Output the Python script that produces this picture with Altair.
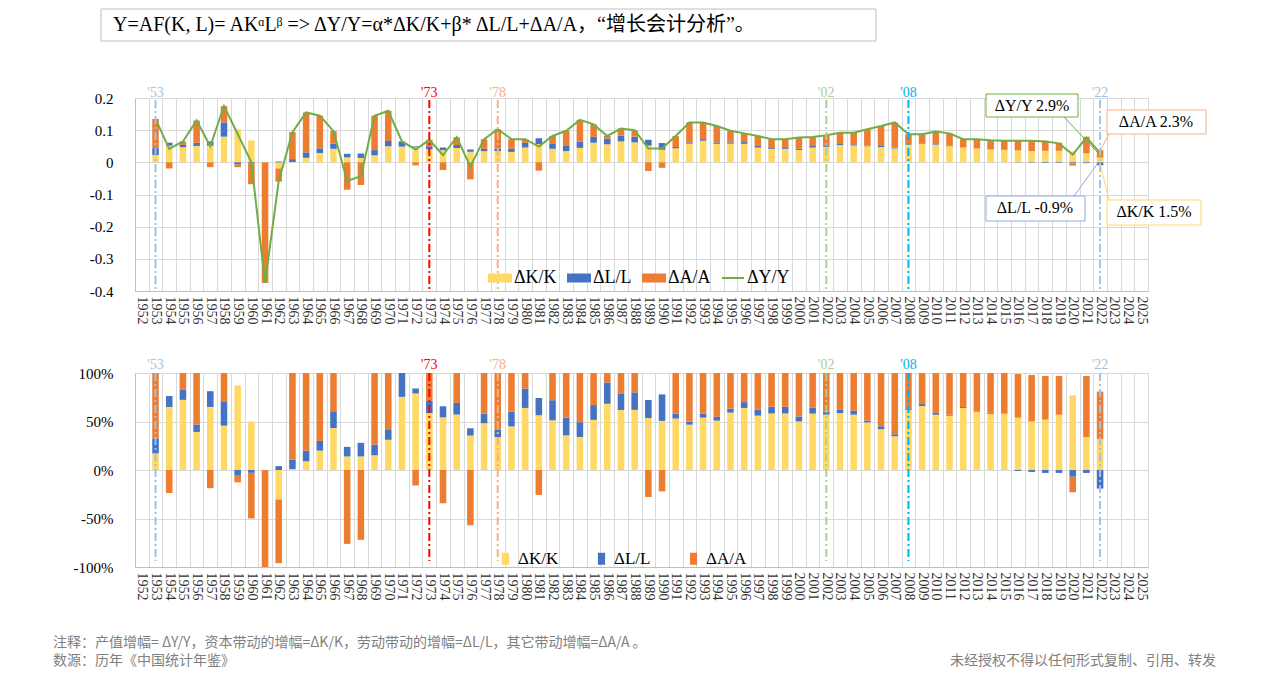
import altair as alt
import pandas as pd

FONT = "Liberation Serif"
CJK = "'Noto Sans CJK SC', 'Noto Sans CJK JP', sans-serif"
MIX = "'Liberation Serif', 'Noto Sans CJK SC', serif"

years = [str(y) for y in range(1952, 2026)]
data_years = [str(y) for y in range(1953, 2023)]

# contributions to growth (1953-2022)
dK = [0.023, 0.052, 0.047, 0.051, 0.052, 0.080, 0.103, 0.068, 0.000, -0.019,
      0.001, 0.014, 0.029, 0.042, 0.0156, 0.0137, 0.022, 0.050, 0.049, 0.0465,
      0.041, 0.038, 0.0445, 0.033, 0.0346, 0.035, 0.0324, 0.046, 0.057, 0.042,
      0.035, 0.045, 0.061, 0.056, 0.065, 0.062, 0.052, 0.039, 0.0435, 0.058,
      0.067, 0.0576, 0.058, 0.0576, 0.046, 0.042, 0.042, 0.0385, 0.046, 0.048,
      0.054, 0.0525, 0.050, 0.0475, 0.043, 0.054, 0.0574, 0.0547, 0.0504, 0.046,
      0.0432, 0.040, 0.0389, 0.0369, 0.0349, 0.0359, 0.0358, 0.0342, 0.0279, 0.015]
dL = [0.021, 0.009, 0.007, 0.010, 0.013, 0.044, -0.007, -0.004, 0.000, 0.0025,
      0.009, 0.017, 0.0145, 0.016, 0.011, 0.0137, 0.016, 0.016, 0.016, 0.003,
      0.009, 0.008, 0.0094, 0.007, 0.0072, 0.008, 0.0108, 0.0144, 0.018, 0.017,
      0.018, 0.020, 0.018, 0.018, 0.018, 0.018, 0.018, 0.021, 0.004, 0.004,
      0.005, 0.0045, 0.004, 0.0054, 0.005, 0.005, 0.005, 0.004, 0.0047, 0.0025,
      0.003, 0.0037, 0.002, 0.0034, 0.0025, 0.0013, 0.0017, 0.0019, 0.0009, 0.0007,
      0.0004, 0.0007, 0.0, -0.0007, -0.0014, -0.0021, -0.0019, -0.0031, -0.0025, -0.009]
dA = [0.091, -0.019, 0.011, 0.069, -0.015, 0.051, -0.008, -0.064, -0.375, -0.041,
      0.084, 0.124, 0.1015, 0.039, -0.085, -0.0705, 0.107, 0.094, 0.000, -0.0094,
      0.020, -0.024, 0.024, -0.053, 0.030, 0.060, 0.0288, 0.0115, -0.026, 0.023,
      0.045, 0.067, 0.039, 0.008, 0.022, 0.020, -0.027, -0.017, 0.0345, 0.062,
      0.052, 0.051, 0.036, 0.027, 0.031, 0.025, 0.025, 0.0345, 0.0284, 0.0335,
      0.035, 0.0358, 0.050, 0.062, 0.078, 0.0317, 0.0279, 0.0394, 0.0387, 0.0253,
      0.0284, 0.0283, 0.0281, 0.0308, 0.0335, 0.0311, 0.0251, -0.0071, 0.0516, 0.023]
dY = [0.135, 0.042, 0.065, 0.130, 0.050, 0.175, 0.088, 0.000, -0.375, -0.058,
      0.094, 0.155, 0.145, 0.097, -0.058, -0.043, 0.145, 0.160, 0.065, 0.040,
      0.070, 0.022, 0.078, -0.013, 0.072, 0.103, 0.072, 0.072, 0.049, 0.082,
      0.098, 0.132, 0.118, 0.082, 0.105, 0.100, 0.043, 0.043, 0.082, 0.124,
      0.124, 0.113, 0.098, 0.090, 0.082, 0.072, 0.072, 0.077, 0.079, 0.084,
      0.092, 0.092, 0.103, 0.113, 0.124, 0.087, 0.087, 0.096, 0.090, 0.072,
      0.072, 0.069, 0.067, 0.067, 0.067, 0.065, 0.059, 0.024, 0.077, 0.029]

comps = ["ΔK/K", "ΔL/L", "ΔA/A"]
comp_colors = ["#FFD966", "#4472C4", "#ED7D31"]

top_ticks = [-0.4, -0.3, -0.2, -0.1, 0, 0.1, 0.2]
bot_ticks = [-1, -0.5, 0, 0.5, 1]

ref_years = ["1953", "1973", "1978", "2002", "2008", "2022"]
ref_labels = ["'53", "'73", "'78", "'02", "'08", "'22"]
ref_line_colors = ["#9DC3E6", "#FF0000", "#F4B183", "#A9D18E", "#00B0F0", "#9DC3E6"]
ref_text_colors = ["#9DC3E6", "#FF0000", "#F4B183", "#A9D18E", "#00B0F0", "#9DC3E6"]

title_text = "Y=AF(K, L)= AKᵅLᵝ => ΔY/Y=α*ΔK/K+β* ΔL/L+ΔA/A，“增长会计分析”。"
note1 = "注释：产值增幅= ΔY/Y，资本带动的增幅=ΔK/K，劳动带动的增幅=ΔL/L，其它带动增幅=ΔA/A 。"
note2 = "数源：历年《中国统计年鉴》"
note3 = "未经授权不得以任何形式复制、引用、转发"

# ---- tables
rows_top, rows_bot = [], []
for i, yr in enumerate(data_years):
    vals = [dK[i], dL[i], dA[i]]
    tot = sum(abs(v) for v in vals)
    for j, c in enumerate(comps):
        rows_top.append({"year": yr, "comp": c, "value": vals[j], "ord": j})
        rows_bot.append({"year": yr, "comp": c, "share": vals[j] / tot if tot else 0, "ord": j})
df_top = pd.DataFrame(rows_top)
df_bot = pd.DataFrame(rows_bot)
df_line = pd.DataFrame({"year": data_years, "value": dY, "s": "ΔY/Y"})
df_ref = pd.DataFrame({"year": ref_years, "lab": ref_labels,
                       "lc": ref_line_colors, "tc": ref_text_colors})

W, H1, H2 = 1013, 193, 194
GRID = "#D9D9D9"


def xenc():
    return alt.X("year:N", scale=alt.Scale(domain=years, paddingInner=0, paddingOuter=0),
                 axis=alt.Axis(title=None, labelAngle=90, labelFont=FONT, labelFontSize=14,
                               labelColor="#303030", labelPadding=5, ticks=False,
                               tickBand="extent", grid=True, gridColor=GRID,
                               domainColor="#BFBFBF", labelOverlap=False))


def yaxis(vals, expr):
    return alt.Axis(title=None, values=vals, labelExpr=expr, grid=True, gridColor=GRID,
                    domainColor="#BFBFBF", ticks=False, labelOverlap=False,
                    labelFont=FONT, labelFontSize=15, labelColor="#000000", labelPadding=22)


top_expr = "datum.value == 0 ? '0' : (datum.value < 0 ? '-' : '') + format(abs(datum.value), '.1f')"
bot_expr = "(datum.value < 0 ? '-' : '') + format(abs(datum.value) * 100, 'd') + '%'"
top_scale = alt.Scale(domain=[-0.4, 0.2], nice=False)

bar_w = alt.RelativeBandSize(band=0.48)

# ---------------- top panel
top_bars = alt.Chart(df_top).mark_bar(width=bar_w).encode(
    x=xenc(),
    y=alt.Y("value:Q", stack="zero", scale=top_scale, axis=yaxis(top_ticks, top_expr)),
    color=alt.Color("comp:N", scale=alt.Scale(domain=comps, range=comp_colors),
                    legend=alt.Legend(orient="none", legendX=353, legendY=168,
                                      direction="horizontal", title=None,
                                      symbolType="M-1,-0.375H1V0.375H-1Z", symbolSize=576,
                                      symbolStrokeWidth=0, labelFont=FONT, labelFontSize=18,
                                      labelColor="#000000", columnPadding=10, labelOffset=2,
                                      padding=0)),
    order=alt.Order("ord:Q"),
)

top_line = alt.Chart(df_line).mark_line(strokeWidth=2).encode(
    x=alt.X("year:N"),
    y=alt.Y("value:Q", scale=top_scale, axis=yaxis(top_ticks, top_expr)),
    stroke=alt.Stroke("s:N", scale=alt.Scale(domain=["ΔY/Y"], range=["#70AD47"]),
                      legend=alt.Legend(orient="none", legendX=586, legendY=168, title=None,
                                        symbolType="stroke", symbolSize=484,
                                        symbolStrokeWidth=2, labelFont=FONT, labelFontSize=18,
                                        labelColor="#000000", labelOffset=2, padding=0)),
)


def ref_layers(y1, y2, ty):
    layers = []
    for k in range(len(ref_years)):
        d = df_ref.iloc[[k]]
        layers.append(alt.Chart(d).mark_rule(strokeDash=[8, 3, 2, 3], strokeWidth=2,
                                             color=ref_line_colors[k]).encode(
            x=alt.X("year:N"), y=alt.value(y1), y2=alt.value(y2)))
        layers.append(alt.Chart(d).mark_text(font=FONT, fontSize=14, baseline="bottom",
                                             color=ref_text_colors[k]).encode(
            x=alt.X("year:N"), y=alt.value(ty), text="lab:N"))
    return layers


one = pd.DataFrame({"a": [0]})


def box(x1, y1, x2, y2, stroke, fill="white", sw=1):
    return alt.Chart(one).mark_rect(fill=fill, stroke=stroke, strokeWidth=sw).encode(
        x=alt.value(x1), x2=alt.value(x2), y=alt.value(y1), y2=alt.value(y2))


def seg(x1, y1, x2, y2, color):
    return alt.Chart(one).mark_rule(color=color, strokeWidth=1).encode(
        x=alt.value(x1), x2=alt.value(x2), y=alt.value(y1), y2=alt.value(y2))


def txt(s, x, y, size, color="#000000", font=FONT, align="center"):
    return alt.Chart(pd.DataFrame({"t": [s]})).mark_text(
        font=font, fontSize=size, color=color, align=align, baseline="middle").encode(
        x=alt.value(x), y=alt.value(y), text="t:N")


callouts = [
    seg(929, 19, 963, 55, "#70AD47"), box(851, -4, 943, 19, "#70AD47"),
    txt("ΔY/Y 2.9%", 897, 8, 16),
    seg(974, 36, 965, 53, "#F4B183"), box(972, 12, 1071, 36, "#F4B183"),
    txt("ΔA/A 2.3%", 1021, 24, 16),
    seg(939, 98, 963, 65, "#8FAADC"), box(851, 98, 950, 123, "#8FAADC"),
    txt("ΔL/L -0.9%", 900, 110, 16),
    seg(974, 102, 964, 61, "#FFD966"), box(972, 102, 1066, 127, "#FFD966"),
    txt("ΔK/K 1.5%", 1019, 114, 16),
]

title_layers = [box(-34, -89, 741, -57, "#BFBFBF"),
                txt(title_text, -22, -73, 20, font=MIX, align="left")]

top = alt.layer(top_bars, top_line, *ref_layers(2, 192, 2), *callouts, *title_layers).properties(
    width=W, height=H1)

# ---------------- bottom panel
bot_bars = alt.Chart(df_bot).mark_bar(width=bar_w).encode(
    x=xenc(),
    y=alt.Y("share:Q", stack="zero", scale=alt.Scale(domain=[-1, 1], nice=False),
            axis=yaxis(bot_ticks, bot_expr)),
    color=alt.Color("comp:N", scale=alt.Scale(domain=comps, range=comp_colors),
                    legend=alt.Legend(orient="none", legendX=362, legendY=177,
                                      direction="horizontal", title=None,
                                      symbolType="M-0.6,-1H0.6V1H-0.6Z", symbolSize=144,
                                      symbolStrokeWidth=0, labelFont=FONT, labelFontSize=17,
                                      labelColor="#000000", columnPadding=34, labelOffset=4,
                                      padding=0)),
    order=alt.Order("ord:Q"),
)

notes = [txt(note1, -82, 270, 14, color="#808080", font=CJK, align="left"),
         txt(note2, -82, 288, 14, color="#808080", font=CJK, align="left"),
         txt(note3, 1081, 288, 14, color="#808080", font=CJK, align="right")]

bottom = alt.layer(bot_bars, *ref_layers(0, 188, -1), *notes).properties(width=W, height=H2)

chart = alt.vconcat(top, bottom, spacing=82, bounds="flush").resolve_scale(
    x="independent", y="independent", color="independent", stroke="independent"
).properties(
    padding={"left": 44, "top": 0, "right": 5, "bottom": 0}
).configure_view(stroke=None).configure(background="white")

chart.save("out.html", embed_options={"renderer": "svg", "actions": False})
